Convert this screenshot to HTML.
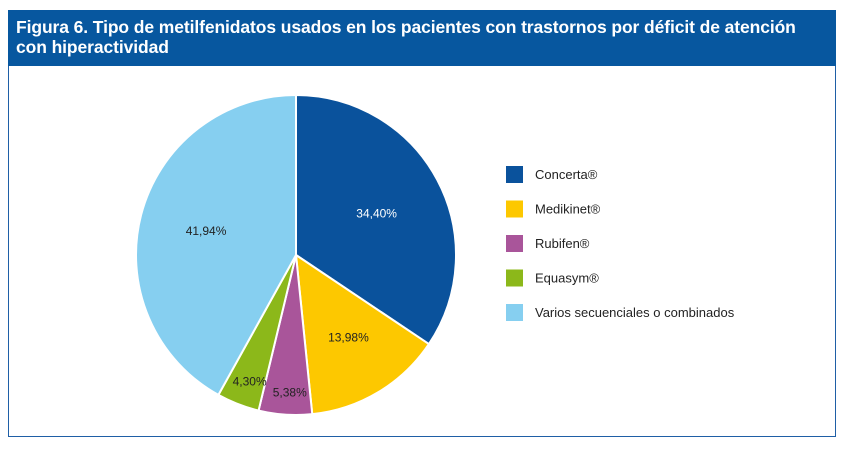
<!DOCTYPE html>
<html><head><meta charset="utf-8"><style>
body{margin:0;background:#fff;width:850px;height:449px;overflow:hidden;font-family:"Liberation Sans",sans-serif}
#frame{position:absolute;left:8px;top:10px;width:828px;height:427px;border:1.5px solid #1f5fa6;box-sizing:border-box}
#hdr{position:absolute;left:8px;top:10px;width:828px;height:56px;background:#07579f;color:#fff;font-weight:bold;font-size:17.5px;line-height:20px;padding:7px 8px;box-sizing:border-box;letter-spacing:-0.1px;white-space:nowrap}
</style></head><body>
<div id="frame"></div>
<div id="hdr">Figura 6. Tipo de metilfenidatos usados en los pacientes con trastornos por déficit de atención<br>con hiperactividad</div>
<svg id="chart" width="850" height="449" style="position:absolute;left:0;top:0"></svg>
<script>
const categories=["Concerta®","Medikinet®","Rubifen®","Equasym®","Varios secuenciales o combinados"];
const values=[34.40,13.98,5.38,4.30,41.94];
const valueLabels=["34,40%","13,98%","5,38%","4,30%","41,94%"];
const colors=["#0a529c","#fdc800","#a9559a","#8cb81a","#86cff0"];
const labelColors=["#fff","#222","#222","#222","#222"];
const svg=document.getElementById('chart');const NS="http://www.w3.org/2000/svg";
const cx=296,cy=255,r=160;
const total=values.reduce((a,b)=>a+b,0);
let a0=0;
const labelR=[0.55,0.6,0.86,0.85,0.6];
values.forEach((v,i)=>{
 const a1=a0+v/total*2*Math.PI;
 const x0=cx+r*Math.sin(a0),y0=cy-r*Math.cos(a0),x1=cx+r*Math.sin(a1),y1=cy-r*Math.cos(a1);
 const p=document.createElementNS(NS,'path');
 p.setAttribute('d',`M${cx},${cy}L${x0},${y0}A${r},${r} 0 ${a1-a0>Math.PI?1:0} 1 ${x1},${y1}Z`);
 p.setAttribute('fill',colors[i]);p.setAttribute('stroke','#fff');p.setAttribute('stroke-width','2');
 
 
 svg.appendChild(p);
 const am=(a0+a1)/2,lr=r*labelR[i];
 const t=document.createElementNS(NS,'text');
 t.setAttribute('x',cx+lr*Math.sin(am)+3);t.setAttribute('y',cy-lr*Math.cos(am)+4);
 t.setAttribute('text-anchor','middle');t.setAttribute('font-size','12');t.setAttribute('fill',labelColors[i]);
 t.textContent=valueLabels[i];
 
 
 svg.appendChild(t);
 a0=a1;
});
categories.forEach((c,i)=>{
 const y=166+i*34.5;
 const rc=document.createElementNS(NS,'rect');
 rc.setAttribute('x',506);rc.setAttribute('y',y);rc.setAttribute('width',17);rc.setAttribute('height',17);rc.setAttribute('fill',colors[i]);
 
 
 svg.appendChild(rc);
 const t=document.createElementNS(NS,'text');
 t.setAttribute('x',535);t.setAttribute('y',y+13);t.setAttribute('font-size','13');t.setAttribute('fill','#222');
 t.textContent=c;
 
 
 svg.appendChild(t);
});
</script>
</body></html>
